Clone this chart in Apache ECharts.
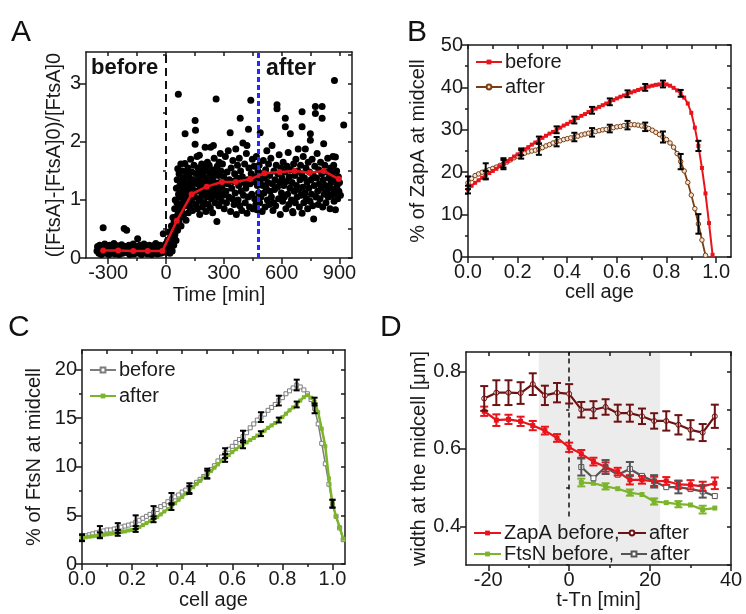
<!DOCTYPE html>
<html><head><meta charset="utf-8">
<script src="https://cdn.jsdelivr.net/npm/echarts@6/dist/echarts.min.js"></script>
<style>html,body{margin:0;padding:0;background:#fff}#c{width:746px;height:614px}</style>
</head><body><div id="c"></div>
<script>
// ---------------- DATA ----------------
// Panel A: scatter points [time, value]
const aPoints = [
[-358,0.12],[-352,0.18],[-348,0.08],[-344,0.22],[-340,0.14],[-336,0.06],[-332,0.2],[-328,0.1],[-326,0.52],[-322,0.16],[-318,0.24],[-314,0.08],[-310,0.13],[-305,0.19],[-300,0.1],[-296,0.06],[-292,0.22],[-288,0.15],[-283,0.09],[-279,0.18],[-274,0.12],[-270,0.25],[-265,0.07],[-261,0.16],[-256,0.1],[-252,0.21],[-247,0.14],[-243,0.06],[-238,0.19],[-234,0.11],[-230,0.23],[-225,0.08],[-221,0.16],[-217,0.51],[-213,0.12],[-209,0.2],[-204,0.48],[-200,0.09],[-196,0.15],[-192,0.22],[-188,0.06],[-183,0.13],[-179,0.19],[-175,0.1],[-170,0.24],[-166,0.07],[-162,0.15],[-158,0.2],[-153,0.11],[-147,0.33],[-144,0.17],[-140,0.08],[-135,0.22],[-131,0.13],[-127,0.06],[-122,0.18],[-118,0.11],[-114,0.24],[-109,0.09],[-105,0.16],[-100,0.2],[-96,0.07],[-92,0.13],[-87,0.22],[-83,0.1],[-79,0.17],[-74,0.06],[-70,0.14],[-66,0.21],[-61,0.09],[-57,0.16],[-53,0.25],[-48,0.11],[-44,0.07],[-40,0.19],[-35,0.13],[-31,0.22],[-27,0.08],[-22,0.15],[-18,0.2],[-14,0.42],[-10,0.1],[-6,0.17],[-2,0.24],[2,0.12],[5,0.2],
[-355,0.2],[-347,0.15],[-338,0.1],[-330,0.16],[-320,0.12],[-311,0.2],[-302,0.16],[-293,0.12],[-285,0.2],[-276,0.16],[-268,0.12],[-258,0.17],[-249,0.1],[-240,0.15],[-232,0.16],[-223,0.2],[-215,0.16],[-206,0.13],[-198,0.19],[-190,0.12],[-181,0.16],[-172,0.14],[-164,0.11],[-156,0.17],[-148,0.12],[-139,0.16],[-130,0.2],[-121,0.14],[-112,0.16],[-103,0.12],[-94,0.18],[-85,0.15],[-77,0.12],[-68,0.17],[-59,0.13],[-50,0.18],[-42,0.14],[-33,0.17],[-24,0.12],[-15,0.16],[-7,0.13],
[8,0.3],[12,0.18],[15,0.45],[18,0.25],[20,0.08],[22,0.35],[25,0.15],[26,0.32],[28,0.55],[30,0.28],[32,0.12],[33,0.4],[36,0.7],[38,0.5],[40,0.22],[42,0.62],[44,0.33],[45,0.85],[46,0.4],[48,1.0],[50,0.55],[52,0.3],[54,1.2],[55,0.72],[57,0.95],[58,1.35],[60,0.48],[61,1.54],[63,0.8],[64,2.82],[65,1.1],[67,0.62],[68,1.45],[70,0.9],[72,1.25],[73,0.7],[75,1.05],[77,1.62],[78,0.55],[80,1.3],[82,0.85],[84,1.15],[86,1.5],[88,0.95],[90,1.38],[92,0.75],[94,1.2],[96,1.05],[98,1.63],[99,2.14],[100,0.9],[102,1.3],[104,0.65],[106,1.45],[108,1.1],[110,1.25],[112,0.95],[114,1.55],[116,0.78],[118,1.18],[120,1.4],[122,1.02],[124,0.88],[126,1.3],[128,1.7],[130,1.12],[132,0.98],[134,1.48],[136,1.22],[138,0.82],[140,1.35],
[145,1.6],[148,1.05],[151,2.37],[152,1.3],[153,2.2],[155,0.92],[157,1.45],[159,1.15],[151,1.96],[161,1.75],[163,0.85],[165,1.28],[167,1.55],[169,1.02],[171,1.38],[173,1.77],[175,0.75],[177,1.2],[179,1.48],[181,0.98],[183,1.32],[185,1.62],[187,1.1],[189,0.88],[191,1.42],[193,1.25],[195,1.08],[197,1.55],[199,0.95],[201,1.35],[203,1.91],[205,1.18],[207,0.8],[209,1.5],[211,1.28],[213,1.05],[215,1.65],[217,1.38],[219,0.92],[221,1.22],[224,1.6],[226,1.12],[228,1.45],[230,0.86],[232,1.91],[234,1.3],[236,1.02],[238,1.52],[240,1.2],[242,0.78],[244,1.4],[246,1.94],[248,1.1],[250,1.72],[252,1.3],[255,0.95],[257,1.48],[260,2.74],[262,1.18],[264,0.63],[266,1.58],[268,1.25],[270,1.05],[272,1.42],[274,0.9],[276,1.65],[278,1.3],[280,1.12],[282,1.8],
[285,1.5],[288,0.98],[290,1.22],[293,1.62],[296,1.08],[299,1.4],[302,0.85],[305,1.3],[308,1.75],[311,1.15],[314,0.95],[317,1.48],[320,1.28],[323,1.85],[326,1.05],[329,1.35],[333,2.16],[335,0.8],[338,1.55],[341,1.2],[344,1.02],[347,1.68],[350,1.32],[353,0.92],[356,1.45],[359,1.12],[362,1.88],[365,0.75],[368,1.38],[371,1.6],[374,1.0],[377,1.25],[380,1.72],[383,0.9],[385,2.41],[387,1.5],[390,1.15],[393,0.82],[396,1.4],[399,1.98],[402,1.08],[405,1.3],[408,1.62],[411,0.95],[414,1.2],[417,1.8],[420,1.94],[420,0.77],[423,1.35],[426,1.05],[428,2.22],[430,1.55],[433,0.88],[436,1.28],[440,2.72],[442,1.45],[445,1.1],[448,1.7],[451,0.85],[454,1.32],[457,1.58],[460,1.02],[463,1.4],[466,0.92],[469,1.75],[472,0.83],[474,1.25],[477,1.5],[480,1.12],
[483,1.6],[486,0.95],[489,2.16],[490,1.35],[493,1.05],[496,1.45],[499,0.8],[502,1.25],[505,1.68],[508,1.12],[511,1.38],[514,0.88],[517,1.52],[520,1.2],[523,1.85],[526,1.0],[529,1.3],[532,1.62],[535,0.92],[538,1.42],[541,1.15],[544,1.72],[547,1.05],[550,1.94],[552,1.28],[555,0.82],[558,0.95],[560,1.5],[563,1.18],[566,1.35],[569,0.9],[572,1.6],[576,2.64],[576,2.57],[578,1.22],[581,1.45],[584,1.02],[587,1.78],[590,1.3],[593,0.75],[596,1.55],[599,1.12],[602,1.38],[605,0.98],[608,1.65],[611,1.25],[614,1.05],[617,1.48],[619,2.41],[619,2.26],[622,0.85],[625,1.32],[628,1.58],[631,1.1],[634,1.82],[637,0.92],[640,1.4],[643,1.2],[645,2.14],[648,1.52],[651,1.0],[654,1.3],[657,0.8],[659,0.78],[662,1.62],[665,1.15],[668,1.42],[671,0.95],[674,1.7],[677,1.25],[680,1.05],[683,1.5],[686,1.88],[689,1.18],[692,0.88],[695,1.35],[698,1.6],
[701,1.08],[704,1.45],[706,2.52],[706,2.26],[706,0.77],[709,1.22],[712,1.75],[715,0.95],[718,1.38],[721,1.12],[723,1.88],[726,1.55],[729,1.02],[732,1.3],[735,0.85],[738,1.65],[741,1.2],[744,1.48],[747,0.98],[749,2.03],[749,2.14],[752,1.35],[755,1.1],[758,1.7],[761,0.9],[764,1.42],[766,0.67],[769,1.25],[772,1.58],[775,2.61],[775,2.49],[778,1.05],[781,1.38],[784,1.8],[787,1.15],[790,0.92],[793,1.52],[796,1.28],[799,1.02],[802,1.65],[805,1.2],[808,1.45],[810,2.61],[810,2.41],[813,0.88],[816,1.35],[818,1.97],[821,1.1],[824,1.6],[827,1.25],[830,0.95],[833,1.48],[836,1.15],[839,1.72],[842,1.05],[845,1.38],[848,1.22],[851,0.85],[854,1.55],[857,1.3],[860,1.08],[863,1.45],[866,1.75],[869,1.18],[870,1.6],[872,0.98],[874,3.06],[876,1.35],[879,0.83],[879,1.74],[882,1.12],[885,1.5],[888,1.25],[891,1.02],[894,1.4],[897,1.15],[900,1.3],[905,1.08],[922,2.29]
];
const aMeanX = [-326,-248,-170,-95,-19,56,133,211,290,362,437,511,589,667,745,818,896];
const aMeanY = [0.13,0.13,0.12,0.12,0.12,0.64,1.10,1.23,1.31,1.31,1.36,1.46,1.48,1.50,1.47,1.50,1.36];
const aMarkers = [0, 480]; // black dashed (start), blue dashed (after)
const aXTicks = [-300,0,300,600,900], aXMinor = [-150,150,450,750];
const aYTicks = [0,1,2,3], aYMinor = [0.5,1.5,2.5,3.5];

// Panel B: % ZapA at midcell vs cell age (bins of 1/70)
const bBins = 70;
const bBefore = [15.9,16.8,17.5,18.1,18.7,19.3,19.8,20.3,20.8,21.4,22.0,22.6,23.1,23.7,24.2,24.8,25.4,25.9,26.5,27.0,27.6,28.1,28.6,29.1,29.5,30.0,30.5,31.0,31.4,31.9,32.3,32.8,33.3,33.7,34.2,34.6,35.0,35.4,35.8,36.2,36.6,37.0,37.4,37.8,38.1,38.5,38.8,39.1,39.4,39.7,40.0,40.2,40.4,40.6,40.7,40.8,40.7,40.4,39.9,39.3,38.6,37.6,36.2,34.0,30.5,26.2,21.0,15.0,8.0,0.5];
const bAfter = [17.5,18.5,19.2,19.6,20.0,20.3,20.6,20.9,21.2,21.6,22.0,22.4,22.9,23.4,23.8,24.2,24.5,24.8,25.0,25.2,25.4,25.8,26.2,26.5,26.9,27.2,27.4,27.7,27.9,28.1,28.3,28.5,28.8,29.0,29.2,29.4,29.6,29.8,30.0,30.1,30.3,30.5,30.7,30.8,31.0,31.1,31.2,31.2,31.1,30.9,30.7,30.3,29.9,29.4,28.9,28.3,27.7,26.9,25.9,24.4,22.5,20.3,17.6,14.6,11.4,7.8,4.0,0.4];
const bErrStep = 5; // error bar every 5th bin
const bBeforeErr = [0.9,1.0,0.9,0.8,0.8,0.8,0.8,0.8,0.8,0.8,0.8,0.8,0.8,1.2];
const bAfterErr = [1.5,1.8,1.3,1.0,1.3,1.1,1.0,1.0,0.9,1.0,1.0,1.3,1.8,2.3];
const bXTicks = [0,0.2,0.4,0.6,0.8,1.0], bXMinor = [0.1,0.3,0.5,0.7,0.9];
const bYTicks = [0,10,20,30,40,50], bYMinor = [5,15,25,35,45];

// Panel C: % FtsN at midcell vs cell age (bins of 1/70)
const cBins = 70;
const cBefore = [2.7,2.9,3.0,3.1,3.2,3.3,3.4,3.5,3.5,3.6,3.7,3.8,3.9,4.0,4.1,4.3,4.5,4.7,4.9,5.1,5.3,5.6,5.9,6.1,6.4,6.7,6.9,7.1,7.4,7.6,7.8,8.1,8.4,8.7,9.0,9.3,9.7,10.1,10.6,11.0,11.4,11.8,12.1,12.5,12.8,13.1,13.5,14.0,14.4,14.8,15.1,15.4,15.8,16.1,16.4,16.8,17.1,17.5,17.8,18.1,18.4,18.2,17.9,17.5,16.9,16.0,14.4,12.4,10.3,8.2,6.2,4.9,3.7,2.5];
const cAfter = [2.7,2.75,2.8,2.85,2.9,2.95,3.0,3.05,3.1,3.15,3.2,3.3,3.35,3.45,3.5,3.6,3.8,4.0,4.2,4.4,4.6,4.85,5.1,5.4,5.65,5.9,6.25,6.6,6.9,7.25,7.6,7.9,8.25,8.55,8.9,9.2,9.55,9.9,10.25,10.6,10.9,11.2,11.5,11.8,12.05,12.3,12.5,12.75,12.95,13.2,13.4,13.7,14.0,14.25,14.5,14.8,15.1,15.45,15.8,16.1,16.4,16.8,17.15,17.35,17.1,16.7,15.6,13.9,12.1,8.8,6.2,4.9,3.8,2.6];
const cErrStep = 5;
const cBeforeErr = [0.35,0.6,0.5,0.7,0.65,0.6,0.5,0.5,0.5,0.6,0.5,0.5,0.55,0.5,0.4];
const cAfterErr = [0.3,0.3,0.3,0.3,0.3,0.35,0.4,0.4,0.4,0.4,0.25,0.25,0.3,0.4,0.4];
const cXTicks = [0,0.2,0.4,0.6,0.8,1.0], cXMinor = [0.1,0.3,0.5,0.7,0.9];
const cYTicks = [0,5,10,15,20], cYMinor = [2.5,7.5,12.5,17.5];

// Panel D: width at midcell vs t-Tn
const dT = [-21,-18,-15,-12,-9,-6,-3,0,3,6,9,12,15,18,21,24,27,30,33,36];
const dZapBefore = [0.697,0.674,0.676,0.671,0.660,0.647,0.628,0.604,0.587,0.567,0.553,0.541,0.520,0.520,0.516,0.517,0.508,0.507,0.503,0.511];
const dZapBeforeErr = [0.012,0.015,0.012,0.012,0.012,0.01,0.01,0.012,0.01,0.01,0.012,0.01,0.012,0.01,0.012,0.01,0.01,0.012,0.012,0.015];
const dZapAfter = [0.730,0.745,0.745,0.744,0.767,0.738,0.745,0.742,0.701,0.701,0.708,0.692,0.692,0.684,0.672,0.672,0.662,0.649,0.642,0.684];
const dZapAfterErr = [0.032,0.032,0.032,0.028,0.028,0.025,0.025,0.025,0.02,0.022,0.02,0.022,0.022,0.02,0.02,0.025,0.025,0.025,0.022,0.03];
const dTF = [3,6,9,12,15,18,21,24,27,30,33,36];
const dFtsBefore = [0.513,0.511,0.503,0.497,0.487,0.482,0.464,0.461,0.457,0.455,0.443,0.447];
const dFtsBeforeErr = [0.01,0,0.008,0,0.008,0,0.008,0,0.008,0,0.01,0];
const dFtsAfter = [0.553,0.524,0.553,0.533,0.548,0.530,0.516,0.501,0.501,0.496,0.490,0.478];
const dFtsAfterErr = [0.022,0,0.018,0,0.018,0,0.016,0,0.016,0,0.016,0];
const dShade = [-7.5, 22.5];
const dDash = [0, 0.425];
const dXTicks = [-20,0,20,40], dXMinor = [-10,10,30];
const dYTicks = [0.4,0.6,0.8], dYMinor = [0.3,0.5,0.7];

// ---------------- STYLE ----------------
const FONT = '"Liberation Sans", Arial, sans-serif';
const INK = '#1a1a1a';
const RED = '#e8141b', BROWN = '#7a3e12', GREY = '#7d7d7d', GREEN = '#7cb42c', DRED = '#6d1212', DGREY = '#555';

const grids = [
  {left:86, top:52, width:266, height:206},
  {left:468, top:45, width:263, height:212},
  {left:82, top:350, width:263, height:214},
  {left:466, top:352, width:265, height:213}
];

const xAxes = [], yAxes = [];
function addAxes(g, xr, yr, xMaj, xMin, yMaj, yMin, xName, yName, xGap, yGap, xFmt, yFmt){
  const line = {show:true, onZero:false, lineStyle:{color:INK, width:1.5}};
  const tl = {color:INK, width:1.5};
  const lab = {fontSize:20, fontFamily:FONT, color:INK, margin:5};
  xAxes.push({gridIndex:g, type:'value', min:xr[0], max:xr[1], position:'bottom', axisLine:line,
    axisTick:{show:true, inside:false, length:6, customValues:xMaj, lineStyle:tl},
    axisLabel:Object.assign({customValues:xMaj, formatter:xFmt}, lab), splitLine:{show:false},
    name:xName, nameLocation:'middle', nameGap:xGap, nameTextStyle:{fontSize:20, fontFamily:FONT, color:INK}});
  xAxes.push({gridIndex:g, type:'value', min:xr[0], max:xr[1], position:'bottom', axisLine:{show:false},
    axisTick:{show:true, inside:false, length:3, customValues:xMin, lineStyle:tl}, axisLabel:{show:false}, splitLine:{show:false}});
  xAxes.push({gridIndex:g, type:'value', min:xr[0], max:xr[1], position:'top', axisLine:line,
    axisTick:{show:true, inside:true, length:4, customValues:xMaj.concat(xMin), lineStyle:tl}, axisLabel:{show:false}, splitLine:{show:false}});
  yAxes.push({gridIndex:g, type:'value', min:yr[0], max:yr[1], position:'left', axisLine:line,
    axisTick:{show:true, inside:false, length:6, customValues:yMaj, lineStyle:tl},
    axisLabel:Object.assign({customValues:yMaj, formatter:yFmt}, lab), splitLine:{show:false},
    name:yName, nameLocation:'middle', nameGap:yGap, nameTextStyle:{fontSize:20, fontFamily:FONT, color:INK}});
  yAxes.push({gridIndex:g, type:'value', min:yr[0], max:yr[1], position:'left', axisLine:{show:false},
    axisTick:{show:true, inside:false, length:3, customValues:yMin, lineStyle:tl}, axisLabel:{show:false}, splitLine:{show:false}});
  yAxes.push({gridIndex:g, type:'value', min:yr[0], max:yr[1], position:'right', axisLine:line,
    axisTick:{show:true, inside:true, length:4, customValues:yMaj.concat(yMin), lineStyle:tl}, axisLabel:{show:false}, splitLine:{show:false}});
}
const f0 = v => String(v), f1 = v => v.toFixed(1);
addAxes(0, [-415,965], [0,3.55], aXTicks, aXMinor, aYTicks, aYMinor, 'Time [min]', '([FtsA]-[FtsA]0)/[FtsA]0', 27, 22, f0, f0);
addAxes(1, [0,1.06], [0,50], bXTicks, bXMinor, bYTicks, bYMinor, 'cell age', '% of ZapA at midcell', 24, 40, f1, f0);
addAxes(2, [0,1.05], [0,22], cXTicks, cXMinor, cYTicks, cYMinor, 'cell age', '% of FtsN at midcell', 26, 38, f1, f0);
addAxes(3, [-25.5,40], [0.3,0.85], dXTicks, dXMinor, dYTicks, dYMinor, 't-Tn [min]', 'width at the midcell [\u03bcm]', 22, 31, f0, f1);

function errSeries(g, data, color, cap, lw, z){
  return {type:'custom', xAxisIndex:3*g, yAxisIndex:3*g, z:z, silent:true, data:data, encode:{x:0, y:1},
    renderItem:function(params, api){
      const x = api.value(0), y = api.value(1), e = api.value(2);
      if(!e) return null;
      const p1 = api.coord([x, y+e]), p2 = api.coord([x, y-e]);
      const st = {stroke:color, lineWidth:lw};
      return {type:'group', children:[
        {type:'line', shape:{x1:p1[0], y1:p1[1], x2:p2[0], y2:p2[1]}, style:st},
        {type:'line', shape:{x1:p1[0]-cap, y1:p1[1], x2:p1[0]+cap, y2:p1[1]}, style:st},
        {type:'line', shape:{x1:p2[0]-cap, y1:p2[1], x2:p2[0]+cap, y2:p2[1]}, style:st}]};
    }};
}
function binned(vals, n){ return vals.map((v,i)=>[i/n, v]); }
function binErr(vals, n, step, errs){ return errs.map((e,k)=>[k*step/n, vals[k*step], e]); }
function zipErr(xs, ys, es){ return xs.map((x,i)=>[x, ys[i], es[i]]); }

function lineS(g, name, data, color, symbol, size, fill, lw, z){
  return {type:'line', name:name, xAxisIndex:3*g, yAxisIndex:3*g, data:data, z:z,
    symbol:symbol, symbolSize:size, showSymbol:true, animation:false,
    lineStyle:{color:color, width:lw},
    itemStyle:{color:fill, borderColor:color, borderWidth: fill===color?0:1, opacity:1}};
}

const series = [];
// Panel A
series.push({type:'scatter', xAxisIndex:0, yAxisIndex:0, data:aPoints, symbolSize:7, itemStyle:{color:'#000', opacity:1}, z:2, silent:true,
  markLine:{silent:true, symbol:'none', label:{show:false}, animation:false, data:[
    {xAxis:aMarkers[0], lineStyle:{color:'#111', type:[8,5], width:2}},
    {xAxis:aMarkers[1], lineStyle:{color:'#1f2bff', type:[5,3], width:3}}]}});
series.push(lineS(0, 'A mean', aMeanX.map((x,i)=>[x, aMeanY[i]]), RED, 'circle', 6, RED, 2.5, 5));
// Panel B
series.push(lineS(1, 'B before', binned(bBefore, bBins), RED, 'rect', 4, RED, 2, 4));
series.push(lineS(1, 'B after', binned(bAfter, bBins), BROWN, 'circle', 4.5, '#f3e6d8', 1.8, 3));
series.push(errSeries(1, binErr(bBefore, bBins, bErrStep, bBeforeErr), '#000', 3, 2, 6));
series.push(errSeries(1, binErr(bAfter, bBins, bErrStep, bAfterErr), '#000', 3, 2, 6));
// Panel C
series.push(lineS(2, 'C before', binned(cBefore, cBins), GREY, 'rect', 4, '#fff', 1.5, 3));
series.push(lineS(2, 'C after', binned(cAfter, cBins), GREEN, 'rect', 4, GREEN, 2.5, 4));
series.push(errSeries(2, binErr(cBefore, cBins, cErrStep, cBeforeErr), '#000', 3, 2, 6));
series.push(errSeries(2, binErr(cAfter, cBins, cErrStep, cAfterErr), '#000', 3, 2, 6));
// Panel D
series.push({type:'custom', xAxisIndex:9, yAxisIndex:9, z:0, silent:true, data:[[dShade[0], dShade[1], 0.3, 0.85]], encode:{x:[0,1], y:[2,3]},
  renderItem:function(params, api){
    const a = api.coord([api.value(0), api.value(3)]), b = api.coord([api.value(1), api.value(2)]);
    return {type:'rect', shape:{x:a[0], y:a[1], width:b[0]-a[0], height:b[1]-a[1]}, style:{fill:'#ececec'}};
  }});
const dZB = lineS(3, 'ZapA before,', dT.map((x,i)=>[x, dZapBefore[i]]), RED, 'rect', 5, RED, 2.2, 5);
dZB.markLine = {silent:true, symbol:'none', label:{show:false}, animation:false,
  lineStyle:{color:'#111', type:[5,4], width:1.5},
  data:[[{coord:[dDash[0], dDash[1]]}, {coord:[dDash[0], 0.85]}]]};
series.push(dZB);
series.push(lineS(3, 'ZapA after', dT.map((x,i)=>[x, dZapAfter[i]]), DRED, 'circle', 5, '#fff', 2.2, 5));
series.push(lineS(3, 'FtsN before,', dTF.map((x,i)=>[x, dFtsBefore[i]]), GREEN, 'rect', 5, GREEN, 2.2, 4));
series.push(lineS(3, 'FtsN after', dTF.map((x,i)=>[x, dFtsAfter[i]]), DGREY, 'rect', 5, '#fff', 2.2, 4));
series.push(errSeries(3, zipErr(dT, dZapBefore, dZapBeforeErr), RED, 4, 2, 6));
series.push(errSeries(3, zipErr(dT, dZapAfter, dZapAfterErr), DRED, 4, 2, 6));
series.push(errSeries(3, zipErr(dTF, dFtsBefore, dFtsBeforeErr), GREEN, 4, 2, 6));
series.push(errSeries(3, zipErr(dTF, dFtsAfter, dFtsAfterErr), DGREY, 4, 2, 6));

function leg(name, left, top, w){
  return {data:[name], left:left, top:top, padding:0, itemWidth:w, itemHeight:6, selectedMode:false,
    textStyle:{fontSize:20, fontFamily:FONT, color:INK, padding:[0,0,0,-2]},
    formatter:function(n){ return n.replace(/^[BC] /,'').replace(/^(ZapA|FtsN) after$/,'after'); }};
}
const legends = [
  leg('B before', 475, 52, 26), leg('B after', 475, 77, 26),
  leg('C before', 89, 360, 26), leg('C after', 89, 386, 26),
  leg('ZapA before,', 473, 523, 27), leg('ZapA after', 617, 523, 28),
  leg('FtsN before,', 473, 544, 27), leg('FtsN after', 620, 544, 26)
];

const panelText = (t, l, tp) => ({type:'text', left:l, top:tp, style:{text:t, font:'30px ' + FONT, fill:'#111'}});
const chart = echarts.init(document.getElementById('c'), null, {renderer:'canvas'});
chart.setOption({
  animation:false, backgroundColor:'#fff',
  grid:grids, xAxis:xAxes, yAxis:yAxes, series:series, legend:legends,
  graphic:[
    panelText('A', 11, 18), panelText('B', 407, 18), panelText('C', 8, 313), panelText('D', 380, 313),
    {type:'text', left:91, top:57, style:{text:'before', font:'bold 22px ' + FONT, fill:'#111'}},
    {type:'text', left:266, top:57, style:{text:'after', font:'bold 23px ' + FONT, fill:'#111'}}
  ]
});
</script></body></html>
